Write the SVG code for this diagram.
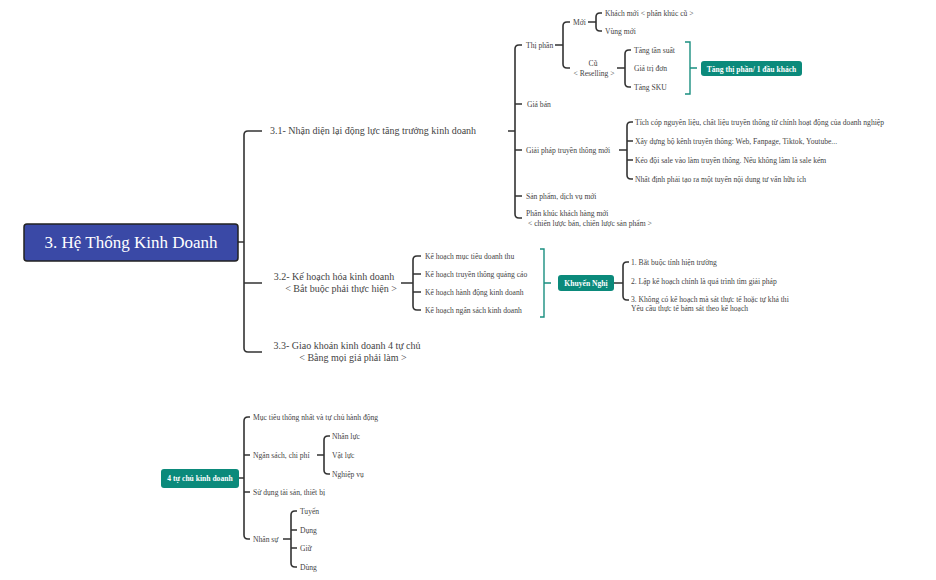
<svg xmlns="http://www.w3.org/2000/svg" width="936" height="580" viewBox="0 0 936 580">
<style>
text{font-family:"Liberation Serif","DejaVu Serif",serif;fill:#444}
.l1{font-size:10px}
.s{font-size:7.6px}
.c{fill:none;stroke:#333;stroke-width:1.6}
.t{fill:none;stroke:#1a8f80;stroke-width:1.4}
.tb{fill:#0b8a7b}
.tt{fill:#fff;font-weight:bold;font-size:7.6px}
</style>
<rect width="936" height="580" fill="#fff"/>
<g id="connectors">
<path class="c" d="M238 242H244M262 131H248Q244 131 244 135V348Q244 352 248 352H262M244 283H262"/>
<path class="c" d="M508 131H515M522 45H519Q515 45 515 49V214Q515 218 519 218H522M515 104H522M515 150H522M515 196H522"/>
<path class="c" d="M555 45H563M570 22H567Q563 22 563 26V64Q563 68 567 68H570"/>
<path class="c" d="M588 22H596M602 13H600Q596 13 596 17V27Q596 31 600 31H602"/>
<path class="c" d="M617 68H625M631 50H629Q625 50 625 54V83Q625 87 629 87H631"/>
<path class="t" d="M685 42H690V94H685M690 68H697"/>
<path class="c" d="M619 150H627M633 122H631Q627 122 627 126V175Q627 179 631 179H633M627 141H633M627 160H633"/>
<path class="c" d="M401 283H413M421 256H417Q413 256 413 260V306Q413 310 417 310H421M413 274H421M413 292H421"/>
<path class="t" d="M540 249H544V317H540M544 283H551"/>
<path class="c" d="M614 283H623M629 262H627Q623 262 623 266V296Q623 300 627 300H629"/>
<path class="c" d="M239 478H244M250 417H248Q244 417 244 421V535Q244 539 248 539H250M244 455H250M244 492H250"/>
<path class="c" d="M317 455H324M330 436H328Q324 436 324 440V470Q324 474 328 474H330"/>
<path class="c" d="M283 539H291M297 511H295Q291 511 291 515V563Q291 567 295 567H297M291 530H297M291 548H297"/>
</g>
<g id="root"><rect x="24" y="224" width="214" height="37" rx="3" fill="#3a49a6" stroke="#222" stroke-width="1.5"/><text x="131" y="248" text-anchor="middle" style="font-size:17px;fill:#fff">3. Hệ Thống Kinh Doanh</text></g>
<g id="n31"><text class="l1" x="270" y="134">3.1- Nhận diện lại động lực tăng trưởng kinh doanh</text></g>
<g id="n32"><text class="l1" x="334" y="280" text-anchor="middle">3.2- Kế hoạch hóa kinh doanh</text><text class="l1" x="341" y="292" text-anchor="middle">&lt; Bắt buộc phải thực hiện &gt;</text></g>
<g id="n33"><text class="l1" x="347" y="349" text-anchor="middle">3.3- Giao khoán kinh doanh 4 tự chủ</text><text class="l1" x="353" y="361" text-anchor="middle">&lt; Bằng mọi giá phải làm &gt;</text></g>
<g id="thiphan"><text class="s" x="526" y="48">Thị phần</text></g>
<g id="moi"><text class="s" x="573" y="25">Mới</text></g>
<g id="khachmoi"><text class="s" x="605" y="16">Khách mới &lt; phân khúc cũ &gt;</text></g>
<g id="vungmoi"><text class="s" x="605" y="34">Vùng mới</text></g>
<g id="cu"><text class="s" x="593" y="66" text-anchor="middle">Cũ</text><text class="s" x="594" y="76" text-anchor="middle">&lt; Reselling  &gt;</text></g>
<g id="tantsuat"><text class="s" x="634" y="53">Tăng tần suất</text></g>
<g id="giatri"><text class="s" x="634" y="71">Giá trị đơn</text></g>
<g id="sku"><text class="s" x="634" y="90">Tăng SKU</text></g>
<g id="tangthiphan"><rect class="tb" x="701" y="61" width="101" height="15" rx="3"/><text class="tt" x="751.5" y="71.5" text-anchor="middle">Tăng thị phần/ 1 đầu khách</text></g>
<g id="giaban"><text class="s" x="527" y="107">Giá bán</text></g>
<g id="giaiphap"><text class="s" x="526" y="153">Giải pháp truyền thông mới</text></g>
<g id="gp1"><text class="s" x="635" y="125">Tích cóp nguyên liệu, chất liệu truyền thông từ chính hoạt động của doanh nghiệp</text></g>
<g id="gp2"><text class="s" x="635" y="144">Xây dựng bộ kênh truyền thông: Web, Fanpage, Tiktok, Youtube...</text></g>
<g id="gp3"><text class="s" x="635" y="163">Kéo đội sale vào làm truyền thông. Nếu không làm là sale kém</text></g>
<g id="gp4"><text class="s" x="635" y="182">Nhất định phải tạo ra một tuyến nội dung tư vấn hữu ích</text></g>
<g id="sanpham"><text class="s" x="526" y="199">Sản phẩm, dịch vụ mới</text></g>
<g id="phankhuc"><text class="s" x="526" y="216">Phân khúc khách hàng mới</text><text class="s" x="528" y="226">&lt; chiến lược bán, chiến lược sản phẩm &gt;</text></g>
<g id="kh1"><text class="s" x="425" y="259">Kế hoạch mục tiêu doanh thu</text></g>
<g id="kh2"><text class="s" x="425" y="277">Kế hoạch truyền thông quảng cáo</text></g>
<g id="kh3"><text class="s" x="425" y="295">Kế hoạch hành động kinh doanh</text></g>
<g id="kh4"><text class="s" x="425" y="313">Kế hoạch ngân sách kinh doanh</text></g>
<g id="khuyennghi"><rect class="tb" x="558" y="275" width="56" height="16" rx="3"/><text class="tt" x="586" y="286" text-anchor="middle">Khuyến Nghị</text></g>
<g id="kn1"><text class="s" x="631" y="265">1. Bắt buộc tính hiện trường</text></g>
<g id="kn2"><text class="s" x="631" y="284">2. Lập kế hoạch chính là quá trình tìm giải pháp</text></g>
<g id="kn3"><text class="s" x="631" y="302">3. Không có kế hoạch mà sát thực tế hoặc tự khả thi</text><text class="s" x="631" y="311">Yêu cầu thực tế bám sát theo kế hoạch</text></g>
<g id="tuchu"><rect class="tb" x="161" y="469" width="78" height="19" rx="3"/><text class="tt" x="200" y="481" text-anchor="middle">4 tự chủ kinh doanh</text></g>
<g id="tc1"><text class="s" x="253" y="420">Mục tiêu thống nhất và tự chủ hành động</text></g>
<g id="tc2"><text class="s" x="253" y="458">Ngân sách, chi phí</text></g>
<g id="nl"><text class="s" x="332" y="439">Nhân lực</text></g>
<g id="vl"><text class="s" x="332" y="458">Vật lực</text></g>
<g id="nv"><text class="s" x="332" y="477">Nghiệp vụ</text></g>
<g id="tc3"><text class="s" x="253" y="495">Sử dụng tài sản, thiết bị</text></g>
<g id="tc4"><text class="s" x="253" y="542">Nhân sự</text></g>
<g id="ns1"><text class="s" x="300" y="514">Tuyển</text></g>
<g id="ns2"><text class="s" x="300" y="533">Dụng</text></g>
<g id="ns3"><text class="s" x="300" y="551">Giữ</text></g>
<g id="ns4"><text class="s" x="300" y="570">Dùng</text></g>
</svg>
